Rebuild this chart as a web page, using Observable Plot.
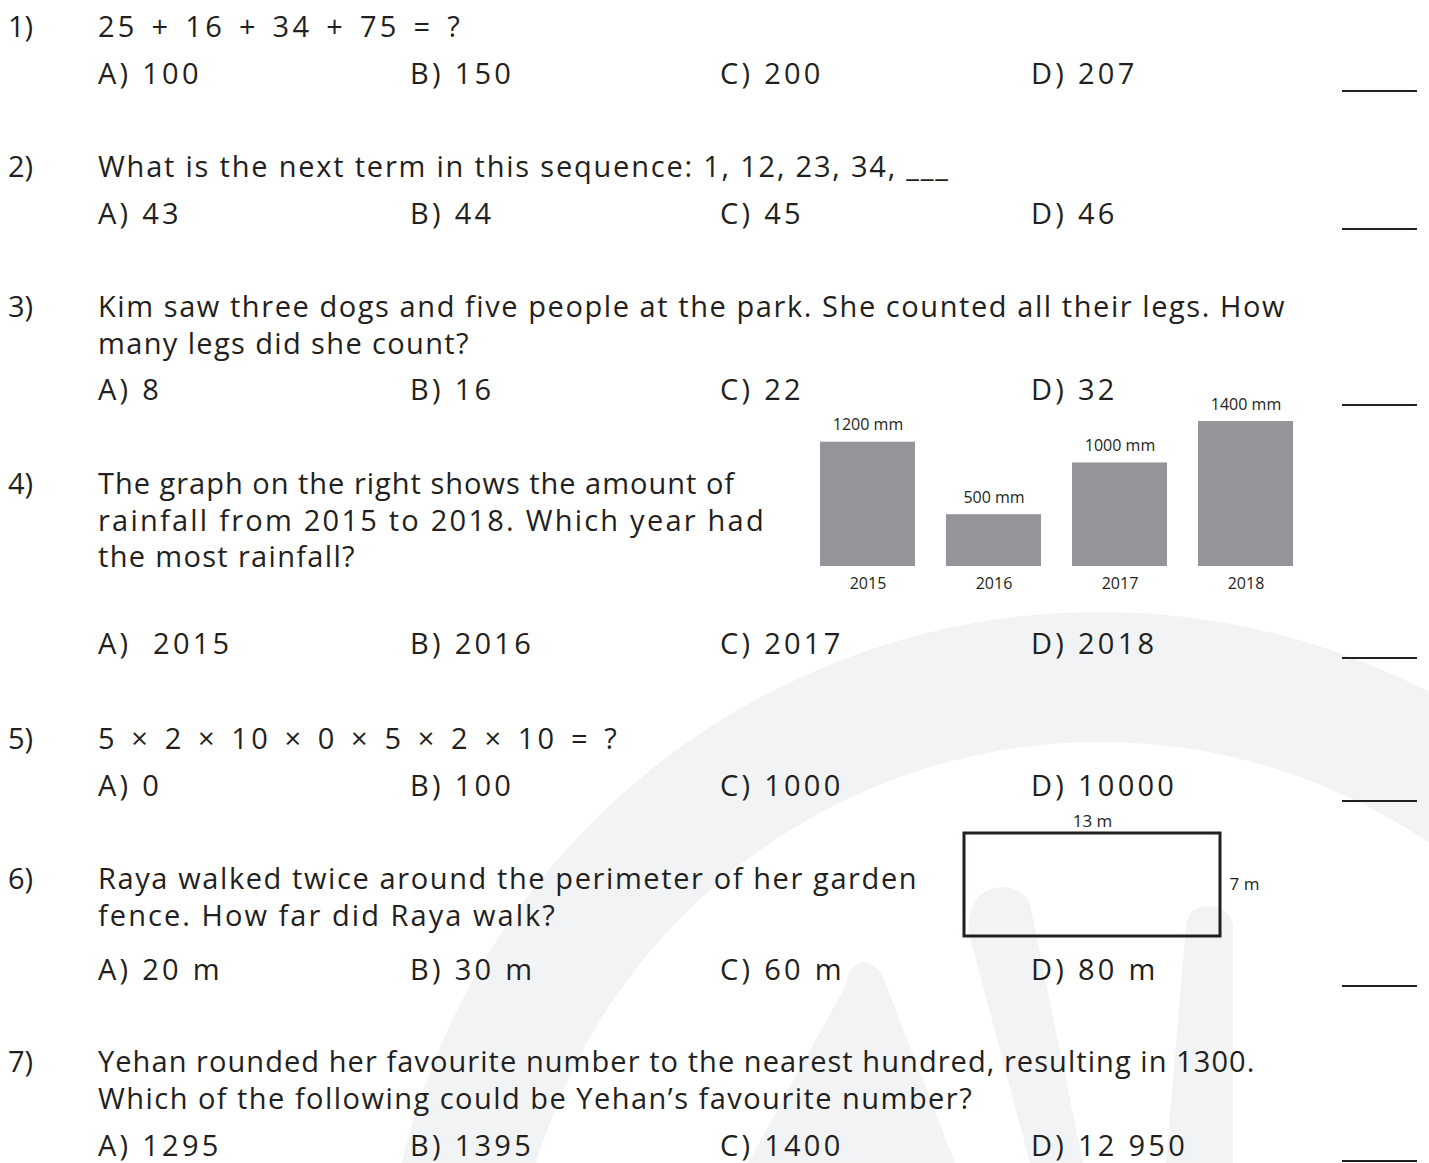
<!DOCTYPE html>
<html>
<head>
<meta charset="utf-8">
<script src="https://cdn.jsdelivr.net/npm/d3@7"></script>
<script src="https://cdn.jsdelivr.net/npm/@observablehq/plot@0.6"></script>
<style>
  html, body { margin: 0; padding: 0; background: #fff; }
  #page { position: relative; width: 1429px; height: 1163px; overflow: hidden; background: #fff;
          font-family: "Open Sans", "Noto Sans", sans-serif; color: #231f20; }
  #wm { position: absolute; left: 0; top: 0; }
  .t { position: absolute; white-space: pre; line-height: 1; transform: translateY(-50%); font-size: 29px; }
  .blank { position: absolute; height: 0; border-top: 2px solid #231f20; }
  .plotbox { position: absolute; }
</style>
</head>
<body>
<div id="page">
  <svg id="wm" width="1429" height="1163" viewBox="0 0 1429 1163">
    <g fill="#f2f3f4" stroke="none">
      <circle cx="1100" cy="1330" r="653" fill="none" stroke="#f2f3f4" stroke-width="130"></circle>
      <path d="M 846 985 Q 850 962 864 962 Q 880 963 888 990 L 955 1163 L 748 1163 Z"></path>
      <path d="M 968 930 Q 970 888 1002 887 Q 1025 888 1030 905 L 1083 1163 L 1030 1163 Z"></path>
      <path d="M 1186 925 Q 1190 906 1208 906 Q 1230 908 1233 925 L 1233 1163 L 1166 1163 Z"></path>
    </g>
  </svg>
  <div id="text"></div>
  <div id="chart" class="plotbox" style="left:788px; top:390px;"></div>
  <div id="garden" class="plotbox" style="left:950px; top:810px;"></div>
</div>
<script>
// ---- worksheet content ----
const qNumbers = ["1)", "2)", "3)", "4)", "5)", "6)", "7)"];
const qStems = [
  ["25 + 16 + 34 + 75 = ?"],
  ["What is the next term in this sequence: 1, 12, 23, 34, ___"],
  ["Kim saw three dogs and five people at the park. She counted all their legs. How", "many legs did she count?"],
  ["The graph on the right shows the amount of", "rainfall from 2015 to 2018. Which year had", "the most rainfall?"],
  ["5 × 2 × 10 × 0 × 5 × 2 × 10 = ?"],
  ["Raya walked twice around the perimeter of her garden", "fence. How far did Raya walk?"],
  ["Yehan rounded her favourite number to the nearest hundred, resulting in 1300.", "Which of the following could be Yehan’s favourite number?"]
];
const qChoices = [
  ["A) 100", "B) 150", "C) 200", "D) 207"],
  ["A) 43", "B) 44", "C) 45", "D) 46"],
  ["A) 8", "B) 16", "C) 22", "D) 32"],
  ["A)  2015", "B) 2016", "C) 2017", "D) 2018"],
  ["A) 0", "B) 100", "C) 1000", "D) 10000"],
  ["A) 20 m", "B) 30 m", "C) 60 m", "D) 80 m"],
  ["A) 1295", "B) 1395", "C) 1400", "D) 12 950"]
];

// ---- chart data (question 4) ----
const years = ["2015", "2016", "2017", "2018"];
const rainfall = [1200, 500, 1000, 1400];
const rainUnit = "mm";

// ---- figure data (question 6) ----
const gardenLength = 13;
const gardenWidth = 7;
const gardenUnit = "m";

// ---- layout (page positions) ----
const layout = {
  numX: 8, stemX: 98, choiceX: [98, 410, 720, 1031],
  stemY: [[25], [165], [305, 342], [482, 519, 555], [737], [877, 914], [1060, 1097]],
  // right end of every stem line in the original typeface, used to set spacing
  stemRight: [[463], [950], [1286, 470], [735, 766, 356], [620], [918, 557], [1255, 973]],
  choiceY: [72, 212, 388, 642, 784, 968, 1144],
  choiceExtraSpacing: 1.7,
  blankY: [90, 228, 404, 657, 800, 985, 1160],
  blankX: 1342, blankW: 75
};

const textHost = document.getElementById("text");
function addText(str, x, y) {
  const d = document.createElement("div");
  d.className = "t";
  d.textContent = str;
  d.style.left = x + "px";
  d.style.top = y + "px";
  textHost.appendChild(d);
  return d;
}
function fitLetters(el, x, right) {
  const w = el.getBoundingClientRect().width;
  const ls = (right - x - w) / el.textContent.length;
  el.style.letterSpacing = ls.toFixed(2) + "px";
  return ls;
}
function fitWords(el, x, right, ls) {
  el.style.letterSpacing = ls.toFixed(2) + "px";
  const w = el.getBoundingClientRect().width;
  const spaces = (el.textContent.match(/ /g) || []).length;
  el.style.wordSpacing = ((right - x - w) / spaces).toFixed(2) + "px";
}

const mathLines = [];
const choiceEls = [];
let baseLs = 0;
qNumbers.forEach((n, i) => {
  addText(n, layout.numX, layout.stemY[i][0]);
  qStems[i].forEach((line, j) => {
    const el = addText(line, layout.stemX, layout.stemY[i][j]);
    if (line.includes("=")) {
      mathLines.push({el, right: layout.stemRight[i][j]});
    } else {
      const ls = fitLetters(el, layout.stemX, layout.stemRight[i][j]);
      if (i === 2 && j === 0) baseLs = ls;
    }
  });
  qChoices[i].forEach((c, k) => choiceEls.push(addText(c, layout.choiceX[k], layout.choiceY[i])));
  const b = document.createElement("div");
  b.className = "blank";
  b.style.left = layout.blankX + "px";
  b.style.top = layout.blankY[i] + "px";
  b.style.width = layout.blankW + "px";
  textHost.appendChild(b);
});
const numberLs = baseLs + layout.choiceExtraSpacing;
choiceEls.forEach(el => { el.style.letterSpacing = numberLs.toFixed(2) + "px"; });
mathLines.forEach(({el, right}) => fitWords(el, layout.stemX, right, numberLs));

const font = '"Open Sans", "Noto Sans", sans-serif';

// ---- rainfall bar chart ----
const rainData = years.map((y, i) => ({year: y, rain: rainfall[i]}));
const chart = Plot.plot({
  width: 536,
  height: 206,
  marginTop: 31,
  marginBottom: 30,
  marginLeft: 0,
  marginRight: 0,
  x: {domain: years, padding: 0.25, label: null},
  y: {domain: [0, d3.max(rainfall)], axis: null},
  style: {fontFamily: font, fontSize: "16px", color: "#231f20", background: "transparent", overflow: "visible"},
  marks: [
    Plot.barY(rainData, {x: "year", y: "rain", fill: "#939598"}),
    Plot.text(rainData, {x: "year", y: "rain", text: d => `${d.rain} ${rainUnit}`, dy: -17, fontSize: 16, fill: "#231f20"}),
    Plot.axisX({tickSize: 0, tickPadding: 11, fontSize: 16, label: null, fill: "#231f20"})
  ]
});
document.getElementById("chart").appendChild(chart);

// ---- garden rectangle ----
const garden = [{x1: 0, x2: gardenLength, y1: 0, y2: gardenWidth}];
const gardenPlot = Plot.plot({
  width: 330,
  height: 136,
  marginLeft: 14,
  marginRight: 60,
  marginTop: 23,
  marginBottom: 10,
  x: {domain: [0, gardenLength], axis: null},
  y: {domain: [0, gardenWidth], axis: null},
  style: {fontFamily: font, fontSize: "17px", color: "#231f20", background: "transparent", overflow: "visible"},
  marks: [
    Plot.rect(garden, {x1: "x1", x2: "x2", y1: "y1", y2: "y2", fill: "none", stroke: "#231f20", strokeWidth: 3}),
    Plot.text(garden, {x: d => (d.x1 + d.x2) / 2, y: "y2", text: d => `${d.x2 - d.x1} ${gardenUnit}`, dy: -12, fontSize: 17, fill: "#231f20"}),
    Plot.text(garden, {x: "x2", y: d => (d.y1 + d.y2) / 2, text: d => `${d.y2 - d.y1} ${gardenUnit}`, dx: 9, textAnchor: "start", fontSize: 17, fill: "#231f20"})
  ]
});
document.getElementById("garden").appendChild(gardenPlot);
</script>
</body>
</html>
